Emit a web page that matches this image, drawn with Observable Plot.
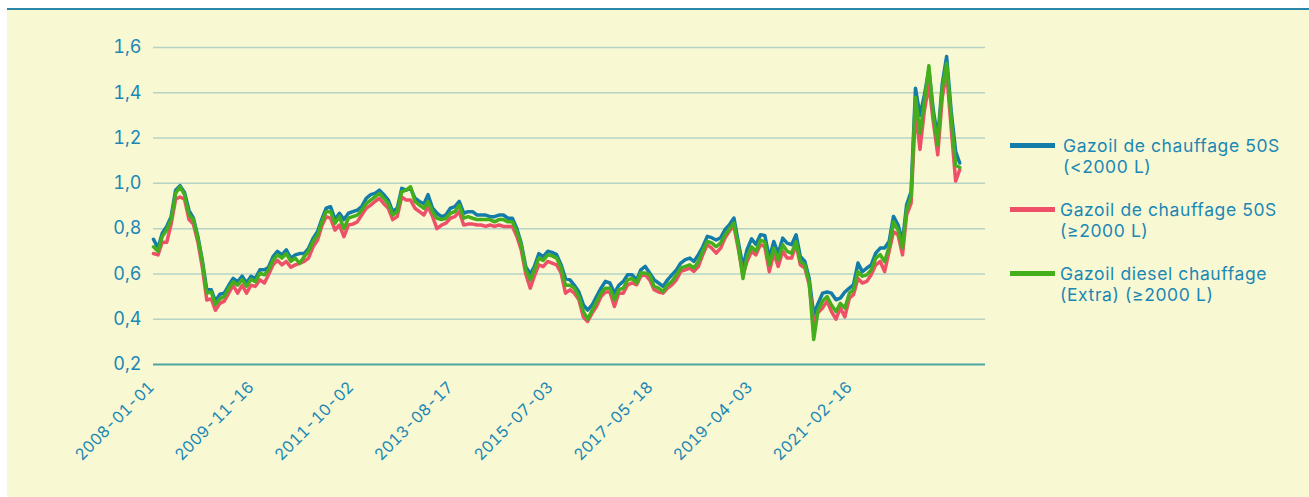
<!DOCTYPE html>
<html>
<head>
<meta charset="utf-8">
<script src="https://cdn.jsdelivr.net/npm/d3@7"></script>
<script src="https://cdn.jsdelivr.net/npm/@observablehq/plot@0.6"></script>
<style>
  html, body { margin: 0; padding: 0; background: #ffffff; }
  #frame {
    position: absolute; left: 7px; top: 8px; width: 1302px; height: 487px;
    background: #f8f9d3; border-top: 2px solid #2a86a6;
    font-family: Inter, sans-serif;
  }
  #chart { position: absolute; left: 0; top: 0; }
  .leg { position: absolute; color: #1b87b5; font-size: 17.5px; line-height: 21px; letter-spacing: 0.6px; white-space: nowrap; font-family: Inter, sans-serif; }
  .legline { position: absolute; height: 5px; width: 45px; }
</style>
</head>
<body>
<div id="frame">
  <div id="chart"></div>
</div>
<script>
// ---- Data (monthly samples from Jan 2008) ----
const seriesNames = [
  "Gazoil de chauffage 50S (<2000 L)",
  "Gazoil de chauffage 50S (≥2000 L)",
  "Gazoil diesel chauffage (Extra) (≥2000 L)"
];
const seriesColors = ["#137ca8", "#ee5068", "#45ae1c"];
const startMonth = "2008-01-01";

const blue = [0.753,0.713,0.78,0.81,0.853,0.97,0.99,0.96,0.88,0.846,0.765,0.66,
0.53,0.53,0.48,0.51,0.515,0.55,0.58,0.566,0.59,0.56,0.59,0.58,
0.618,0.618,0.63,0.676,0.70,0.684,0.706,0.67,0.684,0.69,0.69,0.713,
0.757,0.787,0.84,0.89,0.897,0.84,0.868,0.84,0.868,0.875,0.882,0.897,
0.934,0.95,0.956,0.97,0.95,0.926,0.875,0.89,0.978,0.97,0.978,0.934,
0.92,0.91,0.95,0.89,0.868,0.853,0.86,0.89,0.897,0.92,0.868,0.875,
0.875,0.86,0.86,0.86,0.853,0.853,0.86,0.86,0.846,0.846,0.80,0.735,
0.632,0.60,0.632,0.69,0.676,0.70,0.695,0.685,0.64,0.58,0.574,0.55,
0.52,0.463,0.44,0.463,0.50,0.537,0.567,0.56,0.515,0.55,0.567,0.596,
0.596,0.574,0.618,0.633,0.604,0.574,0.56,0.545,0.574,0.596,0.618,0.648,
0.663,0.67,0.655,0.685,0.72,0.766,0.76,0.75,0.76,0.796,0.818,0.847,
0.737,0.633,0.707,0.755,0.73,0.773,0.77,0.67,0.743,0.69,0.758,0.736,
0.729,0.773,0.677,0.655,0.58,0.42,0.47,0.515,0.52,0.515,0.486,0.493,
0.52,0.537,0.552,0.648,0.61,0.626,0.64,0.692,0.714,0.714,0.743,0.854,
0.817,0.743,0.905,0.964,1.42,1.30,1.39,1.50,1.32,1.20,1.44,1.56,
1.32,1.14,1.09];

const red = [0.69,0.684,0.74,0.74,0.82,0.93,0.94,0.93,0.84,0.82,0.74,0.63,
0.485,0.49,0.44,0.47,0.48,0.515,0.55,0.515,0.55,0.515,0.55,0.545,
0.574,0.56,0.596,0.64,0.66,0.64,0.655,0.63,0.64,0.647,0.655,0.67,
0.72,0.75,0.81,0.853,0.846,0.794,0.816,0.765,0.816,0.82,0.83,0.86,
0.89,0.904,0.92,0.934,0.91,0.89,0.84,0.853,0.94,0.926,0.926,0.89,
0.875,0.86,0.897,0.853,0.80,0.816,0.824,0.846,0.853,0.875,0.816,0.82,
0.82,0.816,0.816,0.81,0.816,0.81,0.816,0.81,0.81,0.81,0.765,0.706,
0.60,0.537,0.59,0.64,0.632,0.655,0.648,0.64,0.604,0.515,0.53,0.515,
0.486,0.41,0.39,0.427,0.456,0.50,0.52,0.52,0.456,0.515,0.515,0.552,
0.56,0.552,0.59,0.596,0.574,0.53,0.52,0.515,0.537,0.552,0.574,0.611,
0.618,0.626,0.611,0.633,0.685,0.73,0.714,0.692,0.714,0.76,0.79,0.81,
0.707,0.596,0.655,0.70,0.684,0.73,0.72,0.61,0.69,0.633,0.70,0.67,
0.67,0.73,0.64,0.626,0.552,0.38,0.43,0.45,0.48,0.434,0.40,0.45,
0.41,0.493,0.508,0.58,0.56,0.567,0.596,0.64,0.655,0.61,0.70,0.787,
0.773,0.684,0.86,0.913,1.32,1.15,1.32,1.435,1.27,1.126,1.38,1.49,
1.245,1.01,1.06];

const green = [0.72,0.70,0.765,0.795,0.84,0.956,0.985,0.95,0.86,0.84,0.757,0.655,
0.515,0.52,0.465,0.49,0.50,0.537,0.566,0.55,0.575,0.545,0.576,0.566,
0.603,0.596,0.618,0.66,0.684,0.67,0.69,0.655,0.67,0.647,0.676,0.70,
0.743,0.772,0.827,0.875,0.875,0.824,0.853,0.80,0.846,0.853,0.86,0.882,
0.91,0.926,0.94,0.956,0.934,0.91,0.86,0.875,0.963,0.97,0.985,0.92,
0.904,0.89,0.92,0.875,0.846,0.84,0.846,0.868,0.875,0.904,0.846,0.853,
0.846,0.84,0.84,0.84,0.84,0.83,0.84,0.84,0.83,0.83,0.787,0.728,
0.618,0.574,0.618,0.67,0.66,0.684,0.68,0.67,0.626,0.55,0.55,0.537,
0.50,0.434,0.40,0.44,0.478,0.515,0.537,0.537,0.485,0.53,0.537,0.574,
0.58,0.56,0.604,0.604,0.596,0.545,0.537,0.522,0.552,0.567,0.596,0.626,
0.633,0.64,0.626,0.655,0.70,0.744,0.737,0.72,0.737,0.773,0.80,0.825,
0.72,0.58,0.677,0.72,0.70,0.75,0.74,0.64,0.714,0.662,0.729,0.70,
0.692,0.743,0.655,0.64,0.565,0.31,0.44,0.48,0.50,0.463,0.434,0.47,
0.45,0.515,0.53,0.61,0.59,0.596,0.618,0.67,0.685,0.655,0.72,0.83,
0.795,0.714,0.883,0.942,1.38,1.22,1.36,1.52,1.295,1.17,1.42,1.53,
1.29,1.08,1.07];

const xTickLabels = ["2008-01-01","2009-11-16","2011-10-02","2013-08-17","2015-07-03","2017-05-18","2019-04-03","2021-02-16"];
const yTicks = [0.2, 0.4, 0.6, 0.8, 1.0, 1.2, 1.4, 1.6];
const xDomainEnd = "2023-08-25";
const legendLines = [["Gazoil de chauffage 50S", "(<2000 L)"], ["Gazoil de chauffage 50S", "(≥2000 L)"], ["Gazoil diesel chauffage", "(Extra) (≥2000 L)"]];

// ---- Build table ----
const parse = d3.utcParse("%Y-%m-%d");
const start = parse(startMonth);
const rows = [];
[blue, red, green].forEach((arr, si) => {
  arr.forEach((v, i) => rows.push({date: d3.utcMonth.offset(start, i), value: v, series: seriesNames[si]}));
});

const textColor = "#1b87b5";
const chart = Plot.plot({
  width: 1302,
  height: 487,
  marginLeft: 146,
  marginRight: 324,
  marginTop: 37,
  marginBottom: 133,
  style: {background: "transparent", fontFamily: "Inter, sans-serif", color: textColor},
  x: {type: "utc", domain: [start, parse(xDomainEnd)], label: null},
  y: {domain: [0.2, 1.6], label: null},
  color: {domain: seriesNames, range: seriesColors},
  marks: [
    Plot.gridY(yTicks.filter(d => d > 0.2), {stroke: "#b4d3c6", strokeOpacity: 1, strokeWidth: 1.5}),
    Plot.ruleY([0.2], {stroke: "#4ba5a0", strokeWidth: 2}),
    Plot.axisY({ticks: yTicks, tickSize: 0, tickPadding: 12, fontSize: 18, fill: textColor, label: null,
      tickFormat: d => d.toFixed(1).replace(".", ",")}),
    Plot.axisX({ticks: xTickLabels.map(parse), tickSize: 0, tickPadding: 20, dx: -2, tickRotate: -45, fontSize: 16, fill: textColor, label: null,
      tickFormat: d3.utcFormat("%Y-%m-%d")}),
    Plot.lineY(rows, {x: "date", y: "value", z: "series", stroke: "series", strokeWidth: 3.5, strokeLinejoin: "round"})
  ]
});
document.getElementById("chart").appendChild(chart);

// ---- Legend (positions relative to the frame's content box at page y=10, x=7) ----
const frame = document.getElementById("frame");
const legLineCenters = [145, 209, 273];
const legTextLeft = [1063, 1060, 1060];
seriesNames.forEach((name, i) => {
  const line = document.createElement("div");
  line.className = "legline";
  line.style.left = (1010 - 7) + "px";
  line.style.top = (legLineCenters[i] - 2.5 - 10) + "px";
  line.style.background = seriesColors[i];
  frame.appendChild(line);
  legendLines[i].forEach((txt, j) => {
    const t = document.createElement("div");
    t.className = "leg";
    t.style.left = (legTextLeft[i] - 7) + "px";
    t.style.top = (legLineCenters[i] - 10 - 10 + j * 21) + "px";
    t.textContent = txt;
    frame.appendChild(t);
  });
});
</script>
</body>
</html>
